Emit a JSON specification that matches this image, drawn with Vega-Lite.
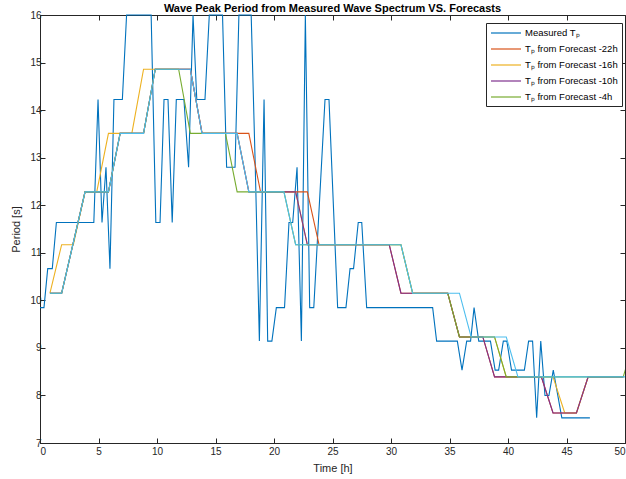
{
  "$schema": "https://vega.github.io/schema/vega-lite/v6.json",
  "width": 585,
  "height": 428,
  "autosize": {"type": "none"},
  "padding": {"left": 40, "top": 15, "right": 1, "bottom": 36},
  "title": {"text": "Wave Peak Period from Measured Wave Spectrum VS. Forecasts", "font": "Liberation Sans", "fontSize": 11, "fontWeight": "bold", "color": "#000000", "offset": 2, "dy": 6, "anchor": "middle"},
  "config": {
    "view": {"stroke": "#262626", "strokeWidth": 1},
    "axis": {"domainColor": "#262626", "tickColor": "#262626", "labelColor": "#262626", "titleColor": "#262626", "labelFont": "Liberation Sans", "titleFont": "Liberation Sans", "labelFontSize": 10, "titleFontSize": 11, "titleFontWeight": "normal", "grid": false, "tickSize": -5, "labelPadding": 4},
    "legend": {"orient": "none", "legendX": 446, "legendY": 8, "strokeColor": "#262626", "fillColor": "white", "padding": 4, "symbolType": "M-1,0H5", "symbolSize": 100, "symbolStrokeWidth": 1.2, "labelOffset": 23, "labelFont": "Liberation Sans", "labelFontSize": 9.5, "labelColor": "#000000", "rowPadding": 5}
  },
  "data": {"values": [
    {"s": "Measured Tₚ", "t": 0, "v": 9.846},
    {"s": "Measured Tₚ", "t": 0.34, "v": 9.846},
    {"s": "Measured Tₚ", "t": 0.66, "v": 10.667},
    {"s": "Measured Tₚ", "t": 1.05, "v": 10.667},
    {"s": "Measured Tₚ", "t": 1.4, "v": 11.636},
    {"s": "Measured Tₚ", "t": 4.6, "v": 11.636},
    {"s": "Measured Tₚ", "t": 4.96, "v": 14.222},
    {"s": "Measured Tₚ", "t": 5.3, "v": 11.636},
    {"s": "Measured Tₚ", "t": 5.64, "v": 12.8},
    {"s": "Measured Tₚ", "t": 5.98, "v": 10.667},
    {"s": "Measured Tₚ", "t": 6.32, "v": 14.222},
    {"s": "Measured Tₚ", "t": 7.04, "v": 14.222},
    {"s": "Measured Tₚ", "t": 7.4, "v": 16},
    {"s": "Measured Tₚ", "t": 9.5, "v": 16},
    {"s": "Measured Tₚ", "t": 9.9, "v": 11.636},
    {"s": "Measured Tₚ", "t": 10.26, "v": 11.636},
    {"s": "Measured Tₚ", "t": 10.6, "v": 14.222},
    {"s": "Measured Tₚ", "t": 10.94, "v": 14.222},
    {"s": "Measured Tₚ", "t": 11.3, "v": 11.636},
    {"s": "Measured Tₚ", "t": 11.65, "v": 14.222},
    {"s": "Measured Tₚ", "t": 12.3, "v": 14.222},
    {"s": "Measured Tₚ", "t": 12.7, "v": 12.8},
    {"s": "Measured Tₚ", "t": 13.08, "v": 16},
    {"s": "Measured Tₚ", "t": 13.4, "v": 14.222},
    {"s": "Measured Tₚ", "t": 14.1, "v": 14.222},
    {"s": "Measured Tₚ", "t": 14.47, "v": 16},
    {"s": "Measured Tₚ", "t": 15.6, "v": 16},
    {"s": "Measured Tₚ", "t": 15.95, "v": 12.8},
    {"s": "Measured Tₚ", "t": 16.67, "v": 12.8},
    {"s": "Measured Tₚ", "t": 17.0, "v": 16},
    {"s": "Measured Tₚ", "t": 18.05, "v": 16},
    {"s": "Measured Tₚ", "t": 18.4, "v": 12.8},
    {"s": "Measured Tₚ", "t": 18.75, "v": 9.143},
    {"s": "Measured Tₚ", "t": 19.15, "v": 14.222},
    {"s": "Measured Tₚ", "t": 19.46, "v": 9.143},
    {"s": "Measured Tₚ", "t": 19.82, "v": 9.143},
    {"s": "Measured Tₚ", "t": 20.2, "v": 9.846},
    {"s": "Measured Tₚ", "t": 20.9, "v": 9.846},
    {"s": "Measured Tₚ", "t": 21.28, "v": 11.636},
    {"s": "Measured Tₚ", "t": 21.6, "v": 11.636},
    {"s": "Measured Tₚ", "t": 21.97, "v": 12.8},
    {"s": "Measured Tₚ", "t": 22.34, "v": 9.143},
    {"s": "Measured Tₚ", "t": 22.68, "v": 16},
    {"s": "Measured Tₚ", "t": 23.05, "v": 9.846},
    {"s": "Measured Tₚ", "t": 23.4, "v": 9.846},
    {"s": "Measured Tₚ", "t": 24.36, "v": 14.222},
    {"s": "Measured Tₚ", "t": 24.7, "v": 14.222},
    {"s": "Measured Tₚ", "t": 25.44, "v": 9.846},
    {"s": "Measured Tₚ", "t": 26.15, "v": 9.846},
    {"s": "Measured Tₚ", "t": 26.5, "v": 10.667},
    {"s": "Measured Tₚ", "t": 26.8, "v": 10.667},
    {"s": "Measured Tₚ", "t": 27.2, "v": 11.636},
    {"s": "Measured Tₚ", "t": 27.5, "v": 11.636},
    {"s": "Measured Tₚ", "t": 27.92, "v": 9.846},
    {"s": "Measured Tₚ", "t": 33.56, "v": 9.846},
    {"s": "Measured Tₚ", "t": 33.9, "v": 9.143},
    {"s": "Measured Tₚ", "t": 35.67, "v": 9.143},
    {"s": "Measured Tₚ", "t": 36.07, "v": 8.533},
    {"s": "Measured Tₚ", "t": 36.47, "v": 9.143},
    {"s": "Measured Tₚ", "t": 36.8, "v": 9.143},
    {"s": "Measured Tₚ", "t": 37.1, "v": 9.846},
    {"s": "Measured Tₚ", "t": 37.5, "v": 9.143},
    {"s": "Measured Tₚ", "t": 38.5, "v": 9.143},
    {"s": "Measured Tₚ", "t": 38.9, "v": 8.533},
    {"s": "Measured Tₚ", "t": 39.2, "v": 8.533},
    {"s": "Measured Tₚ", "t": 39.6, "v": 9.143},
    {"s": "Measured Tₚ", "t": 39.9, "v": 9.143},
    {"s": "Measured Tₚ", "t": 40.3, "v": 8.533},
    {"s": "Measured Tₚ", "t": 41.4, "v": 8.533},
    {"s": "Measured Tₚ", "t": 41.76, "v": 9.143},
    {"s": "Measured Tₚ", "t": 42.1, "v": 9.143},
    {"s": "Measured Tₚ", "t": 42.45, "v": 7.529},
    {"s": "Measured Tₚ", "t": 42.8, "v": 9.143},
    {"s": "Measured Tₚ", "t": 43.16, "v": 8.0},
    {"s": "Measured Tₚ", "t": 43.5, "v": 8.0},
    {"s": "Measured Tₚ", "t": 43.87, "v": 8.533},
    {"s": "Measured Tₚ", "t": 44.6, "v": 7.529},
    {"s": "Measured Tₚ", "t": 47.0, "v": 7.529},

    {"s": "Tₚ from Forecast -22h", "t": 0.85, "v": 10.15},
    {"s": "Tₚ from Forecast -22h", "t": 1.85, "v": 10.15},
    {"s": "Tₚ from Forecast -22h", "t": 3.85, "v": 12.28},
    {"s": "Tₚ from Forecast -22h", "t": 5.85, "v": 12.28},
    {"s": "Tₚ from Forecast -22h", "t": 6.85, "v": 13.51},
    {"s": "Tₚ from Forecast -22h", "t": 8.85, "v": 13.51},
    {"s": "Tₚ from Forecast -22h", "t": 9.85, "v": 14.86},
    {"s": "Tₚ from Forecast -22h", "t": 12.85, "v": 14.86},
    {"s": "Tₚ from Forecast -22h", "t": 13.85, "v": 13.51},
    {"s": "Tₚ from Forecast -22h", "t": 17.85, "v": 13.51},
    {"s": "Tₚ from Forecast -22h", "t": 18.85, "v": 12.28},
    {"s": "Tₚ from Forecast -22h", "t": 22.85, "v": 12.28},
    {"s": "Tₚ from Forecast -22h", "t": 23.85, "v": 11.17},
    {"s": "Tₚ from Forecast -22h", "t": 29.85, "v": 11.17},
    {"s": "Tₚ from Forecast -22h", "t": 30.85, "v": 10.15},
    {"s": "Tₚ from Forecast -22h", "t": 34.85, "v": 10.15},
    {"s": "Tₚ from Forecast -22h", "t": 35.85, "v": 9.23},
    {"s": "Tₚ from Forecast -22h", "t": 37.85, "v": 9.23},
    {"s": "Tₚ from Forecast -22h", "t": 38.85, "v": 8.39},
    {"s": "Tₚ from Forecast -22h", "t": 42.85, "v": 8.39},
    {"s": "Tₚ from Forecast -22h", "t": 43.85, "v": 7.63},
    {"s": "Tₚ from Forecast -22h", "t": 45.85, "v": 7.63},
    {"s": "Tₚ from Forecast -22h", "t": 46.85, "v": 8.39},
    {"s": "Tₚ from Forecast -22h", "t": 49.85, "v": 8.39},

    {"s": "Tₚ from Forecast -16h", "t": 0.85, "v": 10.15},
    {"s": "Tₚ from Forecast -16h", "t": 1.85, "v": 11.17},
    {"s": "Tₚ from Forecast -16h", "t": 2.85, "v": 11.17},
    {"s": "Tₚ from Forecast -16h", "t": 3.85, "v": 12.28},
    {"s": "Tₚ from Forecast -16h", "t": 4.85, "v": 12.28},
    {"s": "Tₚ from Forecast -16h", "t": 5.85, "v": 13.51},
    {"s": "Tₚ from Forecast -16h", "t": 7.85, "v": 13.51},
    {"s": "Tₚ from Forecast -16h", "t": 8.85, "v": 14.86},
    {"s": "Tₚ from Forecast -16h", "t": 12.85, "v": 14.86},
    {"s": "Tₚ from Forecast -16h", "t": 13.85, "v": 13.51},
    {"s": "Tₚ from Forecast -16h", "t": 16.85, "v": 13.51},
    {"s": "Tₚ from Forecast -16h", "t": 17.85, "v": 12.28},
    {"s": "Tₚ from Forecast -16h", "t": 21.85, "v": 12.28},
    {"s": "Tₚ from Forecast -16h", "t": 22.85, "v": 11.17},
    {"s": "Tₚ from Forecast -16h", "t": 30.85, "v": 11.17},
    {"s": "Tₚ from Forecast -16h", "t": 31.85, "v": 10.15},
    {"s": "Tₚ from Forecast -16h", "t": 34.85, "v": 10.15},
    {"s": "Tₚ from Forecast -16h", "t": 35.85, "v": 9.23},
    {"s": "Tₚ from Forecast -16h", "t": 38.85, "v": 9.23},
    {"s": "Tₚ from Forecast -16h", "t": 39.85, "v": 8.39},
    {"s": "Tₚ from Forecast -16h", "t": 43.85, "v": 8.39},
    {"s": "Tₚ from Forecast -16h", "t": 44.85, "v": 7.63},
    {"s": "Tₚ from Forecast -16h", "t": 45.85, "v": 7.63},
    {"s": "Tₚ from Forecast -16h", "t": 46.85, "v": 8.39},
    {"s": "Tₚ from Forecast -16h", "t": 49.85, "v": 8.39},

    {"s": "Tₚ from Forecast -10h", "t": 0.85, "v": 10.15},
    {"s": "Tₚ from Forecast -10h", "t": 1.85, "v": 10.15},
    {"s": "Tₚ from Forecast -10h", "t": 3.85, "v": 12.28},
    {"s": "Tₚ from Forecast -10h", "t": 5.85, "v": 12.28},
    {"s": "Tₚ from Forecast -10h", "t": 6.85, "v": 13.51},
    {"s": "Tₚ from Forecast -10h", "t": 8.85, "v": 13.51},
    {"s": "Tₚ from Forecast -10h", "t": 9.85, "v": 14.86},
    {"s": "Tₚ from Forecast -10h", "t": 12.85, "v": 14.86},
    {"s": "Tₚ from Forecast -10h", "t": 13.85, "v": 13.51},
    {"s": "Tₚ from Forecast -10h", "t": 16.85, "v": 13.51},
    {"s": "Tₚ from Forecast -10h", "t": 17.85, "v": 12.28},
    {"s": "Tₚ from Forecast -10h", "t": 21.85, "v": 12.28},
    {"s": "Tₚ from Forecast -10h", "t": 22.85, "v": 11.17},
    {"s": "Tₚ from Forecast -10h", "t": 29.85, "v": 11.17},
    {"s": "Tₚ from Forecast -10h", "t": 30.85, "v": 10.15},
    {"s": "Tₚ from Forecast -10h", "t": 34.85, "v": 10.15},
    {"s": "Tₚ from Forecast -10h", "t": 35.85, "v": 9.23},
    {"s": "Tₚ from Forecast -10h", "t": 37.85, "v": 9.23},
    {"s": "Tₚ from Forecast -10h", "t": 38.85, "v": 8.39},
    {"s": "Tₚ from Forecast -10h", "t": 42.85, "v": 8.39},
    {"s": "Tₚ from Forecast -10h", "t": 43.85, "v": 7.63},
    {"s": "Tₚ from Forecast -10h", "t": 45.85, "v": 7.63},
    {"s": "Tₚ from Forecast -10h", "t": 46.85, "v": 8.39},
    {"s": "Tₚ from Forecast -10h", "t": 49.85, "v": 8.39},

    {"s": "Tₚ from Forecast -4h", "t": 0.85, "v": 10.15},
    {"s": "Tₚ from Forecast -4h", "t": 1.85, "v": 10.15},
    {"s": "Tₚ from Forecast -4h", "t": 3.85, "v": 12.28},
    {"s": "Tₚ from Forecast -4h", "t": 5.85, "v": 12.28},
    {"s": "Tₚ from Forecast -4h", "t": 6.85, "v": 13.51},
    {"s": "Tₚ from Forecast -4h", "t": 8.85, "v": 13.51},
    {"s": "Tₚ from Forecast -4h", "t": 9.85, "v": 14.86},
    {"s": "Tₚ from Forecast -4h", "t": 11.85, "v": 14.86},
    {"s": "Tₚ from Forecast -4h", "t": 12.85, "v": 13.51},
    {"s": "Tₚ from Forecast -4h", "t": 15.85, "v": 13.51},
    {"s": "Tₚ from Forecast -4h", "t": 16.85, "v": 12.28},
    {"s": "Tₚ from Forecast -4h", "t": 20.85, "v": 12.28},
    {"s": "Tₚ from Forecast -4h", "t": 21.85, "v": 11.17},
    {"s": "Tₚ from Forecast -4h", "t": 30.85, "v": 11.17},
    {"s": "Tₚ from Forecast -4h", "t": 31.85, "v": 10.15},
    {"s": "Tₚ from Forecast -4h", "t": 34.85, "v": 10.15},
    {"s": "Tₚ from Forecast -4h", "t": 35.85, "v": 9.23},
    {"s": "Tₚ from Forecast -4h", "t": 38.85, "v": 9.23},
    {"s": "Tₚ from Forecast -4h", "t": 39.85, "v": 8.39},
    {"s": "Tₚ from Forecast -4h", "t": 49.85, "v": 8.39},
    {"s": "Tₚ from Forecast -4h", "t": 50.85, "v": 9.23},

    {"s": "Tₚ from Forecast (other)", "t": 0.85, "v": 10.15},
    {"s": "Tₚ from Forecast (other)", "t": 1.85, "v": 10.15},
    {"s": "Tₚ from Forecast (other)", "t": 3.85, "v": 12.28},
    {"s": "Tₚ from Forecast (other)", "t": 5.85, "v": 12.28},
    {"s": "Tₚ from Forecast (other)", "t": 6.85, "v": 13.51},
    {"s": "Tₚ from Forecast (other)", "t": 8.85, "v": 13.51},
    {"s": "Tₚ from Forecast (other)", "t": 9.85, "v": 14.86},
    {"s": "Tₚ from Forecast (other)", "t": 12.85, "v": 14.86},
    {"s": "Tₚ from Forecast (other)", "t": 13.85, "v": 13.51},
    {"s": "Tₚ from Forecast (other)", "t": 16.85, "v": 13.51},
    {"s": "Tₚ from Forecast (other)", "t": 17.85, "v": 12.28},
    {"s": "Tₚ from Forecast (other)", "t": 20.85, "v": 12.28},
    {"s": "Tₚ from Forecast (other)", "t": 21.85, "v": 11.17},
    {"s": "Tₚ from Forecast (other)", "t": 30.85, "v": 11.17},
    {"s": "Tₚ from Forecast (other)", "t": 31.85, "v": 10.15},
    {"s": "Tₚ from Forecast (other)", "t": 35.85, "v": 10.15},
    {"s": "Tₚ from Forecast (other)", "t": 36.85, "v": 9.23},
    {"s": "Tₚ from Forecast (other)", "t": 39.85, "v": 9.23},
    {"s": "Tₚ from Forecast (other)", "t": 40.85, "v": 8.39},
    {"s": "Tₚ from Forecast (other)", "t": 50.85, "v": 8.39}
  ]},
  "layer": [
    {
      "transform": [{"filter": "datum.s === 'Measured Tₚ'"}],
      "mark": {"type": "line", "strokeWidth": 1.1},
      "encoding": {
        "x": {"field": "t", "type": "quantitative", "scale": {"domain": [0, 50], "nice": false}, "axis": {"values": [0,5,10,15,20,25,30,35,40,45,50], "title": "Time [h]", "labelPadding": 8, "titlePadding": 6}},
        "y": {"field": "v", "type": "quantitative", "scale": {"domain": [7, 16], "nice": false, "zero": false}, "axis": {"values": [7,8,9,10,11,12,13,14,15,16], "title": "Period [s]", "titlePadding": 8}},
        "color": {"field": "s", "type": "nominal", "sort": null,
          "scale": {"domain": ["Measured Tₚ", "Tₚ from Forecast -22h", "Tₚ from Forecast -16h", "Tₚ from Forecast -10h", "Tₚ from Forecast -4h", "Tₚ from Forecast (other)"], "range": ["#0072BD", "#D95319", "#EDB120", "#7E2F8E", "#77AC30", "#4DBEEE"]},
          "legend": {"title": null, "values": ["Measured Tₚ", "Tₚ from Forecast -22h", "Tₚ from Forecast -16h", "Tₚ from Forecast -10h", "Tₚ from Forecast -4h"]}}
      }
    },
    {
      "transform": [{"filter": "datum.s !== 'Measured Tₚ'"}],
      "mark": {"type": "line", "strokeWidth": 1.1, "clip": true},
      "encoding": {
        "x": {"field": "t", "type": "quantitative", "scale": {"domain": [0, 50], "nice": false}, "axis": {"orient": "top", "values": [0,5,10,15,20,25,30,35,40,45,50], "labels": false, "title": null, "domain": false}},
        "y": {"field": "v", "type": "quantitative", "scale": {"domain": [7, 16], "nice": false, "zero": false}, "axis": {"orient": "right", "values": [7,8,9,10,11,12,13,14,15,16], "labels": false, "title": null, "domain": false}},
        "color": {"field": "s", "type": "nominal", "sort": null}
      }
    }
  ],
  "resolve": {"axis": {"x": "independent", "y": "independent"}}
}
